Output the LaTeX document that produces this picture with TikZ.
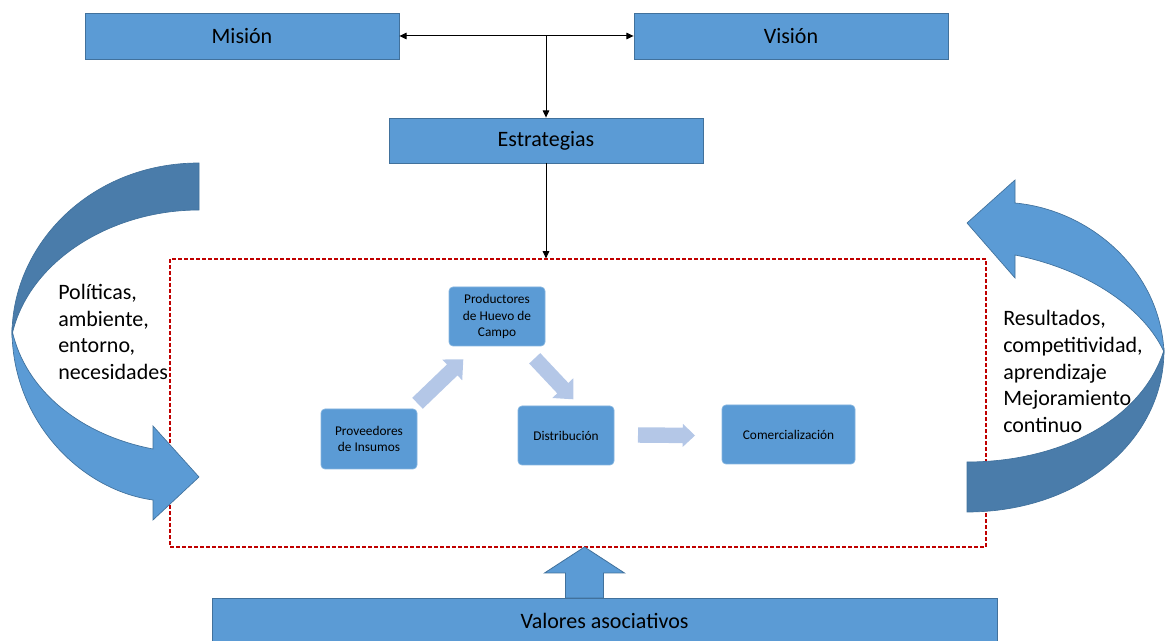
\documentclass[tikz,border=0pt]{standalone}
\usepackage{fontspec}
\setmainfont{Carlito}
\usetikzlibrary{calc,arrows.meta}
\definecolor{mainblue}{HTML}{5B9BD5}
\definecolor{bordblue}{HTML}{41719C}
\definecolor{darkblue}{HTML}{4A7CAA}
\definecolor{lightblue}{HTML}{B4C7E7}
\definecolor{framered}{HTML}{C00000}
% block arrow: #1 tail, #2 tip, #3 half shaft, #4 half head, #5 head length, #6 style
\newcommand\blockarr[6]{%
  \coordinate (ba-base) at ($(#2)!#5!(#1)$);
  \path[#6] ($(#1)!#3!90:(#2)$) -- ($(ba-base)!#3!90:(#2)$) -- ($(ba-base)!#4!90:(#2)$)
    -- (#2) -- ($(ba-base)!#4!-90:(#2)$) -- ($(ba-base)!#3!-90:(#2)$)
    -- ($(#1)!#3!-90:(#2)$) -- cycle;
}
\tikzset{
  bigbox/.style={draw=bordblue, fill=mainblue, line width=0.6pt, minimum width=235.5pt,
    inner sep=0pt, font=\fontsize{16.5}{19.8}\selectfont},
  smallbox/.style={fill=mainblue, draw=mainblue!75!white, line width=0.5pt, rounded corners=3pt,
    minimum width=72pt, minimum height=44.25pt, inner sep=0pt, align=center,
    font=\fontsize{10}{12.4}\selectfont},
  conn/.style={line width=0.75pt, -{Triangle[length=5.5pt,width=5pt]}},
  conntwo/.style={line width=0.75pt, {Triangle[length=5.5pt,width=5pt]}-{Triangle[length=5.5pt,width=5pt]}},
  lightarr/.style={fill=lightblue},
  upblock/.style={fill=mainblue, draw=bordblue, line width=0.6pt},
  curvedark/.style={fill=darkblue, draw=bordblue, line width=0.5pt},
  curvelight/.style={fill=mainblue, draw=bordblue, line width=0.5pt},
  sidelabel/.style={align=left, inner sep=0pt, anchor=west, font=\fontsize{16.5}{19.9}\selectfont},
}
\begin{document}
\begin{tikzpicture}[x=0.75pt,y=-0.75pt]
\useasboundingbox (0,0) rectangle (1165,641);
% frame
\node[draw=framered, dashed, dash pattern=on 3pt off 1.5pt, line width=0.9pt,
  minimum width=612pt, minimum height=216pt, inner sep=0pt] (frame) at (578,403) {};
% top boxes
\node[bigbox, minimum height=34.5pt] (mision) at (242,36) {Misión};
\node[bigbox, minimum height=34.5pt] (vision) at (791,36) {Visión};
\node[bigbox, minimum height=33.75pt] (estr) at (546,140.5) {Estrategias};
\coordinate (junc) at (546,36);
\draw[conntwo] (mision.east) -- (vision.west);
\draw[conn] (junc) -- (estr.north);
\draw[conn] (estr.south) -- (estr.south |- frame.north);
% left curved arrow
\path[curvedark] (199,163) .. controls (90,163) and (12,245) .. (12,335)
  .. controls (28,262) and (110,210) .. (199,210) -- cycle;
\path[curvelight] (12,330) .. controls (12,420) and (80,490) .. (153,500)
  -- (153,520) -- (199,477) -- (153,426) -- (153,449)
  .. controls (80,435) and (25,390) .. (12,330) -- cycle;
% right curved arrow
\path[curvedark] (967,462) -- (967,512) .. controls (1080,512) and (1164,440) .. (1164,350)
  .. controls (1142,420) and (1060,462) .. (967,462) -- cycle;
\path[curvelight] (1164,352) .. controls (1160,270) and (1090,210) .. (1015,203)
  -- (1015,180) -- (967,223) -- (1015,278) -- (1015,255)
  .. controls (1090,270) and (1145,310) .. (1164,352) -- cycle;
% side labels
\node[sidelabel] (left) at (58,332) {Políticas,\\ambiente,\\entorno,\\necesidades};
\node[sidelabel] (right) at (1003,371.5) {Resultados,\\competitividad,\\aprendizaje\\Mejoramiento\\continuo};
% process boxes
\node[smallbox] (prod) at (497,316.5) {Productores\\de Huevo de\\Campo};
\node[smallbox, minimum height=45pt] (prov) at (369,439) {Proveedores\\de Insumos};
\node[smallbox] (dist) at (566,435.5) {Distribución};
\node[smallbox, minimum width=99.75pt] (com) at (788.5,434.5) {Comercialización};
% light block arrows
\coordinate (a1t) at (417.5,403.3);
\coordinate (a1h) at (463.3,359.3);
\coordinate (a2t) at (534.7,358.3);
\coordinate (a2h) at (573.3,399.3);
\coordinate (a3t) at (638,435);
\coordinate (a3h) at (695,435.5);
\blockarr{a1t}{a1h}{5.7pt}{10.8pt}{11.5pt}{lightarr}
\blockarr{a2t}{a2h}{5.7pt}{10.8pt}{11.5pt}{lightarr}
\blockarr{a3t}{a3h}{5.8pt}{8.7pt}{9.2pt}{lightarr}
% bottom
\node[bigbox, minimum width=588.75pt, minimum height=34.5pt] (valores) at (604.5,621) {Valores asociativos};
\coordinate (upt) at (584.5,598);
\coordinate (uph) at (584.5,547);
\blockarr{upt}{uph}{14.25pt}{30pt}{19.5pt}{upblock}
\end{tikzpicture}
\end{document}
